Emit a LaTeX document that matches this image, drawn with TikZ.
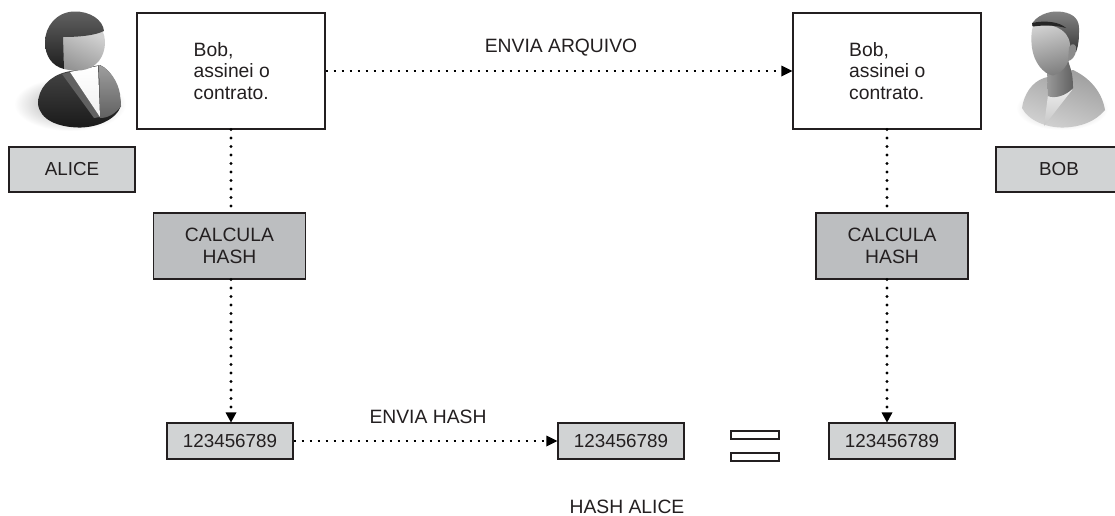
\documentclass[tikz,border=0pt]{standalone}
\usepackage{fontspec}
\setmainfont{Liberation Sans}
\usetikzlibrary{arrows.meta}
\definecolor{ink}{HTML}{231F20}
\definecolor{boxlight}{HTML}{D1D3D4}
\definecolor{boxdark}{HTML}{BCBEC0}
\tikzset{
  x=1pt,y=-1pt,
  every node/.style={text=ink,font=\fontsize{19.3}{21.5}\selectfont},
  frame/.style={draw=ink,line width=1.1pt,inner sep=0pt,align=center},
  docbox/.style={frame,fill=white,minimum width=188pt,minimum height=116pt},
  namebox/.style={frame,fill=boxlight,minimum height=45pt,minimum width=126pt,font=\fontsize{18.8}{21.5}\selectfont},
  calcbox/.style={frame,fill=boxdark,minimum width=152pt,minimum height=66pt},
  hashbox/.style={frame,fill=boxlight,minimum width=126pt,minimum height=36pt,font=\fontsize{18.8}{21.5}\selectfont},
  eqbar/.style={frame,fill=white,line width=2pt,minimum width=48pt,minimum height=8pt},
  doctext/.style={align=left,anchor=west,inner sep=0pt},
  label/.style={inner sep=0pt},
  vlink/.style={draw=black,line width=3.2pt,line cap=round,dash pattern=on 0pt off 8.5pt},
  hlink/.style={draw=black,line width=2pt,dash pattern=on 2.8pt off 5.2pt},
  tip/.style={draw=none,fill=black},
}
\begin{document}
\begin{tikzpicture}
\useasboundingbox (0,0) rectangle (1115,515);
\fill[white] (0,0) rectangle (1115,515);

% ---- Alice figure
\shade[inner color=black!38,outer color=white,draw=none] (70,104) ellipse (56 and 27);
\shade[top color=black!72,bottom color=black!90]
  (38,104) .. controls (38,88) and (50,76) .. (66,72)
  -- (100,65) .. controls (112,70) and (120,88) .. (121,106)
  .. controls (116,120) and (96,128) .. (78,127.5)
  .. controls (58,127) and (40,120) .. (38,104) -- cycle;
\fill[black!62] (62,74) -- (70,72) -- (100,117) -- (94,118) -- cycle;
\shade[top color=black!38,bottom color=black!62]
  (99,65) .. controls (110,69) and (118,82) .. (120,94) -- (121,106)
  .. controls (115,114) and (108,118) .. (100,118) -- cycle;
\shade[top color=white,bottom color=black!6]
  (70,72) -- (98,66) -- (100,117) -- cycle;
\shade[top color=black!18,bottom color=black!42,shading angle=-25]
  (62,36) -- (103,32) .. controls (107,42) and (105,56) .. (96,64)
  .. controls (88,71) and (76,72) .. (64,69) -- cycle;
\shade[top color=black!62,bottom color=black!88]
  (104,31) .. controls (103,20) and (90,11) .. (74,11.5)
  .. controls (56,12) and (45,27) .. (45,42)
  .. controls (45,56) and (52,66) .. (64,69)
  -- (63,37) .. controls (76,37) and (94,36) .. (104,31) -- cycle;

% ---- Bob figure
\shade[inner color=black!30,outer color=white,draw=none] (1062,108) ellipse (46 and 22);
\shade[top color=black!38,bottom color=black!18,shading angle=-20]
  (1022,108) .. controls (1024,94) and (1032,82) .. (1044,78)
  -- (1073,70) .. controls (1090,78) and (1102,92) .. (1105,110)
  .. controls (1095,122) and (1080,127) .. (1064,127.5)
  .. controls (1046,128) and (1028,120) .. (1022,108) -- cycle;
\shade[top color=black!8,bottom color=black!22]
  (1048,95) -- (1072,90) -- (1044,126) -- cycle;
\shade[left color=black!40,right color=black!62]
  (1047,70) -- (1068,60) .. controls (1070,68) and (1073,72) .. (1073,88)
  .. controls (1066,96) and (1054,99) .. (1048,96) -- cycle;
\shade[top color=black!48,bottom color=black!78]
  (1032,24) .. controls (1036,16) and (1048,11) .. (1058,11.5)
  .. controls (1070,12) and (1079,17) .. (1079,28)
  .. controls (1079,38) and (1079,44) .. (1076,52)
  -- (1066,52) .. controls (1066,38) and (1058,25) .. (1032,26) -- cycle;
\shade[top color=black!18,bottom color=black!50,shading angle=15]
  (1033,26) .. controls (1050,22) and (1068,28) .. (1070,44)
  .. controls (1072,60) and (1065,72) .. (1053,75.5)
  .. controls (1043,74) and (1034,62) .. (1032,48)
  .. controls (1031,40) and (1031,32) .. (1033,26) -- cycle;
\fill[black!45] (1069,47) .. controls (1072,42) and (1077,44) .. (1076,50)
  .. controls (1076,56) and (1071,61) .. (1068,61) -- cycle;
\fill[black!85] (1032,23) .. controls (1045,20) and (1060,22) .. (1066,28)
  .. controls (1055,25) and (1044,25) .. (1033,26.5) -- cycle;

% ---- Boxes
\node[docbox] (docA) at (231,71) {};
\node[docbox] (docB) at (887,71) {};
\node[doctext] (txtA) at (193.5,71) {Bob,\\assinei o\\contrato.};
\node[doctext] (txtB) at (849,71) {Bob,\\assinei o\\contrato.};
\node[namebox] (alice) at (72,169.5) {ALICE};
\node[namebox] (bob) at (1059,169.5) {BOB};
\node[calcbox] (calcA) at (229.5,246) {CALCULA\\HASH};
\node[calcbox] (calcB) at (892,246) {CALCULA\\HASH};
\node[hashbox] (hashA) at (230,441) {123456789};
\node[hashbox] (hashM) at (621,441) {123456789};
\node[hashbox] (hashB) at (892,441) {123456789};
\node[eqbar] (eqT) at (754.5,434.5) {};
\node[eqbar] (eqB) at (754.5,456.5) {};

% ---- Labels
\node[label] (lblArq) at (561,48) {ENVIA ARQUIVO};
\node[label] (lblHash) at (428,417) {ENVIA HASH};
\node[label] (lblAlice) at (627,506.5) {HASH ALICE};

% ---- Connectors
\path[vlink] (docA.south) -- (docA.south |- calcA.north);
\path[vlink] (docB.south) -- (docB.south |- calcB.north);
\path[vlink] (docA.south |- calcA.south) -- ([yshift=10pt]docA.south |- hashA.north);
\path[vlink] (docB.south |- calcB.south) -- ([yshift=10pt]docB.south |- hashB.north);
\path[hlink] (docA.east) -- ([xshift=-10pt]docB.west);
\path[hlink] (hashA.east) -- ([xshift=-10pt]hashM.west);
\fill[tip] (docB.west) -- ++(-11,-5.5) -- ++(0,11) -- cycle;
\fill[tip] (hashM.west) -- ++(-11,-5.5) -- ++(0,11) -- cycle;
\fill[tip] (docA.south |- hashA.north) -- ++(-5.5,-10) -- ++(11,0) -- cycle;
\fill[tip] (docB.south |- hashB.north) -- ++(-5.5,-10) -- ++(11,0) -- cycle;
\end{tikzpicture}
\end{document}
